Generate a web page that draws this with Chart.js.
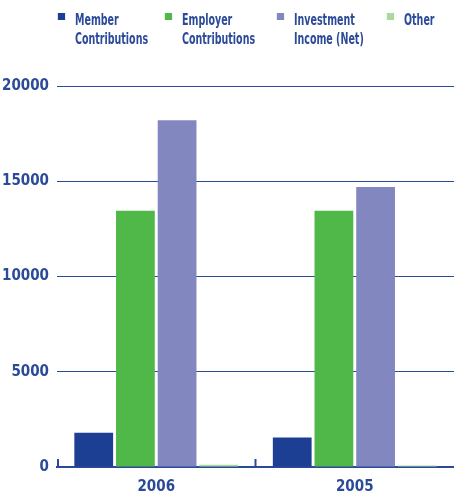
<!DOCTYPE html>
<html>
<head>
    <title>Contributions and Income</title>
    <script src="https://cdn.jsdelivr.net/npm/chart.js"></script>
    <style>
        body {
            margin: 0;
            background-color: #fff;
            font-family: "DejaVu Sans Condensed", sans-serif;
            color: #2b4a98;
        }
        #wrap {
            position: relative;
            width: 454px;
            height: 491px;
        }
        #plot {
            position: absolute;
            left: 0;
            top: 0;
        }
        .item {
            position: absolute;
            top: 10px;
            font-size: 16px;
            font-weight: bold;
            line-height: 19px;
            white-space: nowrap;
            transform: scaleX(0.66);
            transform-origin: 0 0;
        }
        /* box sits inside the squeezed item, so its sizes are pre-stretched */
        .box {
            position: absolute;
            left: -26px;
            top: 3px;
            width: 10.6px;
            height: 7px;
        }
    </style>
</head>
<body>
<div id="wrap">
    <canvas id="plot" width="454" height="491"></canvas>
    <div id="legend"></div>
</div>

<script>
    // values
    const years = ['2006', '2005'];
    const memberContrib = [1800, 1550];
    const employerContrib = [13450, 13450];
    const investmentIncome = [18200, 14700];
    const otherIncome = [120, 80];
    const yTicks = [0, 5000, 10000, 15000, 20000];

    const seriesNames = [['Member', 'Contributions'], ['Employer', 'Contributions'], ['Investment', 'Income (Net)'], ['Other']];
    const seriesColors = ['#1c3f94', '#50b848', '#8288bf', '#a9d99d'];
    const legendLeft = [75, 182, 294, 404];

    // html legend, two-line labels
    const legend = document.getElementById('legend');
    seriesNames.forEach(function (name, i) {
        const d = document.createElement('div');
        d.className = 'item';
        d.style.left = legendLeft[i] + 'px';
        d.innerHTML = '<span class="box" style="background:' + seriesColors[i] + '"></span>' + name.join('<br>');
        legend.appendChild(d);
    });

    const blue = '#2b4a98';
    const tickFont = { family: '"DejaVu Sans Condensed", sans-serif', size: 15, weight: 'bold' };

    // small upward ticks at category boundaries
    const boundaryTicks = {
        id: 'boundaryTicks',
        afterDraw(chart) {
            const x = chart.scales.x;
            const ctx = chart.ctx;
            const half = (x.getPixelForValue(1) - x.getPixelForValue(0)) / 2;
            ctx.save();
            ctx.strokeStyle = blue;
            ctx.lineWidth = 2;
            for (let i = 0; i < years.length; i++) {
                const px = Math.max(x.getPixelForValue(i) - half, chart.chartArea.left + 1);
                ctx.beginPath();
                ctx.moveTo(px, chart.chartArea.bottom - 8);
                ctx.lineTo(px, chart.chartArea.bottom + 1);
                ctx.stroke();
            }
            ctx.restore();
        }
    };

    const ctx = document.getElementById('plot').getContext('2d');
    new Chart(ctx, {
        type: 'bar',
        data: {
            labels: years,
            datasets: [
                { label: 'Member Contributions', data: memberContrib, backgroundColor: seriesColors[0] },
                { label: 'Employer Contributions', data: employerContrib, backgroundColor: seriesColors[1] },
                { label: 'Investment Income (Net)', data: investmentIncome, backgroundColor: seriesColors[2] },
                { label: 'Other', data: otherIncome, backgroundColor: seriesColors[3] }
            ]
        },
        options: {
            responsive: false,
            animation: false,
            layout: { padding: { top: 86, right: 0, left: 0, bottom: 0 } },
            datasets: {
                bar: { categoryPercentage: 0.84, barPercentage: 0.93 }
            },
            scales: {
                x: {
                    grid: { display: false },
                    border: { color: blue, width: 2 },
                    ticks: { color: blue, padding: 3, font: tickFont },
                    afterFit(scale) { scale.height = 24; }
                },
                y: {
                    min: 0,
                    max: 20000,
                    afterBuildTicks(scale) { scale.ticks = yTicks.map(v => ({ value: v })); },
                    grid: { color: blue, lineWidth: 1, drawTicks: false },
                    border: { display: false },
                    ticks: {
                        color: blue,
                        padding: 8,
                        font: tickFont,
                        callback: v => String(v)
                    },
                    afterFit(scale) { scale.width = 57; }
                }
            },
            plugins: {
                legend: { display: false },
                tooltip: { enabled: false }
            }
        },
        plugins: [boundaryTicks]
    });
</script>
</body>
</html>
